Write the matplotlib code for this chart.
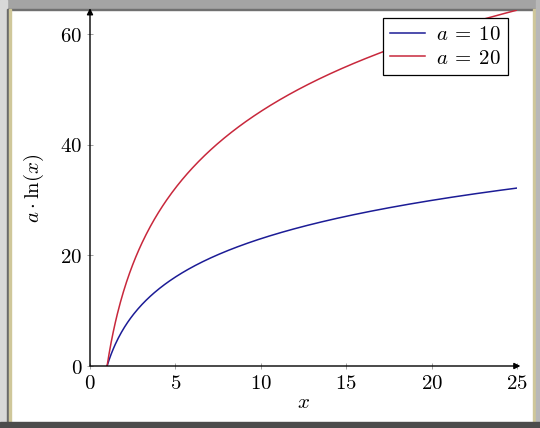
import numpy as np
import matplotlib
matplotlib.use("Agg")
import matplotlib.pyplot as plt
from matplotlib.patches import Rectangle

plt.rcParams['mathtext.fontset'] = 'cm'
plt.rcParams['font.family'] = 'serif'
plt.rcParams['font.serif'] = ['DejaVu Serif']

a_values = [10, 20]
series_labels = [r'$a\:=\:10$', r'$a\:=\:20$']
colors = ['#1c1c96', '#c8283c']
x_ticks = [0, 5, 10, 15, 20, 25]
y_ticks = [0, 20, 40, 60]
x_domain = (1, 25)

W, H = 540, 428
fig = plt.figure(figsize=(W / 100, H / 100), dpi=100)
fig.patch.set_facecolor('white')

# window frame decoration
def rect(x0, y0, w, h, c):
    fig.patches.append(Rectangle((x0 / W, 1 - (y0 + h) / H), w / W, h / H,
                                 transform=fig.transFigure, color=c, zorder=-5))
rect(0, 0, W, 9, '#a4a4a4')
rect(0, 9, W, 1, '#707070')
rect(0, 0, 7, H, '#d8d8d8')
rect(7, 9, 2, H, '#6a6a6a')
rect(9, 9, 2, H, '#cfc79a')
rect(533, 9, 3, H, '#cfc79a')
rect(536, 0, 4, H, '#b8b8b8')
rect(0, 422, W, 6, '#4c4c4c')

x0p, x1p = 90, 517
y0p, y1p = 366, 10
ax = fig.add_axes([x0p / W, 1 - y0p / H, (x1p - x0p) / W, (y0p - y1p) / H])
ax.set_facecolor('none')

x = np.linspace(x_domain[0], x_domain[1], 400)
for a, lab, c in zip(a_values, series_labels, colors):
    ax.plot(x, a * np.log(x), color=c, lw=1.1, label=lab)

ax.set_xlim(0, 25)
ax.set_ylim(0, 64.4)
for s in ax.spines.values():
    s.set_visible(False)

# axis lines with arrows
ax.annotate('', xy=(1.008, 0), xytext=(0, 0), xycoords='axes fraction',
            arrowprops=dict(arrowstyle='-|>', lw=1.0, color='black',
                            mutation_scale=9, shrinkA=0, shrinkB=0), annotation_clip=False)
ax.annotate('', xy=(0, 1.005), xytext=(0, 0), xycoords='axes fraction',
            arrowprops=dict(arrowstyle='-|>', lw=1.0, color='black',
                            mutation_scale=9, shrinkA=0, shrinkB=0), annotation_clip=False)

ax.set_xticks(x_ticks)
ax.set_yticks(y_ticks)
ax.set_xticklabels([f'${t}$' for t in x_ticks])
ax.set_yticklabels([f'${t}$' for t in y_ticks])
ax.tick_params(direction='inout', length=5, width=0.6, color='#909090',
               labelsize=15, pad=3)
ax.set_xlabel('$x$', fontsize=15, labelpad=0)
ax.set_ylabel(r'$a \cdot \ln(x)$', fontsize=15, labelpad=10)

leg = ax.legend(loc='upper right', bbox_to_anchor=(0.978, 0.977), fontsize=15,
                frameon=True, fancybox=False, edgecolor='black', framealpha=1,
                handlelength=1.7, handletextpad=0.5, borderpad=0.35,
                labelspacing=0.2, borderaxespad=0)
leg.get_frame().set_linewidth(0.9)

fig.savefig('out.png', dpi=100)
